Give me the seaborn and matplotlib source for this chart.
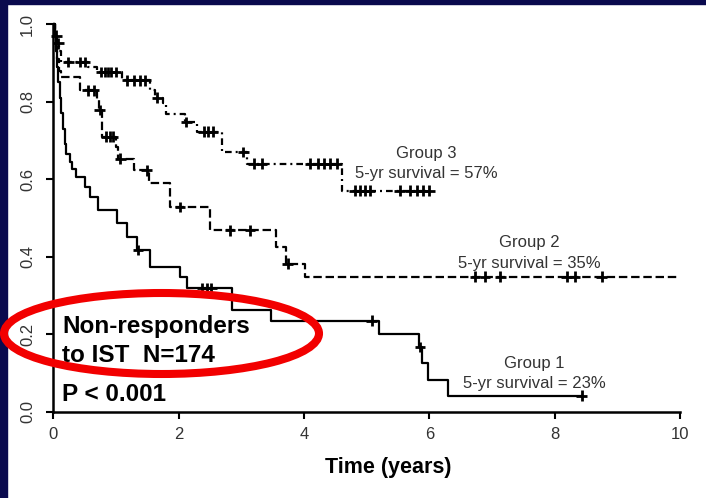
import numpy as np
import pandas as pd
import matplotlib
matplotlib.use("Agg")
import matplotlib.pyplot as plt
from matplotlib.patches import Ellipse, Rectangle
import seaborn as sns

# ---------------- data ----------------
g1_time = [0.0, 0.02, 0.04, 0.06, 0.08, 0.10, 0.12, 0.15, 0.18, 0.21, 0.26, 0.30, 0.37,
           0.51, 0.585, 0.72, 1.01, 1.17, 1.33, 1.54, 2.02, 2.13, 2.85, 3.48, 5.19,
           5.83, 5.88, 5.98, 6.30, 8.43]
g1_surv = [1.0, 0.97, 0.93, 0.89, 0.85, 0.81, 0.77, 0.73, 0.69, 0.665, 0.645, 0.625, 0.606,
           0.58, 0.554, 0.52, 0.486, 0.451, 0.417, 0.374, 0.348, 0.318, 0.262, 0.235, 0.20,
           0.167, 0.125, 0.082, 0.041, 0.041]
g1_cens = [1.35, 2.38, 2.45, 2.52, 5.08, 5.85, 8.43]

g2_time = [0.0, 0.02, 0.04, 0.06, 0.09, 0.12, 0.43, 0.69, 0.73, 0.78, 1.00, 1.04, 1.28,
           1.52, 1.86, 2.50, 3.56, 3.72, 4.02, 10.0]
g2_surv = [1.0, 0.97, 0.94, 0.91, 0.88, 0.864, 0.829, 0.803, 0.778, 0.709, 0.683, 0.653, 0.623,
           0.589, 0.528, 0.468, 0.425, 0.382, 0.348, 0.348]
g2_cens = [0.55, 0.65, 0.74, 0.84, 0.90, 0.95, 1.07, 1.49, 2.02, 2.82, 3.14, 3.74,
           6.73, 6.89, 7.13, 8.19, 8.32, 8.75]

g3_time = [0.0, 0.03, 0.06, 0.09, 0.13, 0.55, 0.70, 1.10, 1.54, 1.62, 1.75, 1.80, 2.10,
           2.30, 2.69, 3.09, 4.60, 6.00]
g3_surv = [1.0, 0.97, 0.95, 0.93, 0.902, 0.889, 0.876, 0.855, 0.83, 0.81, 0.795, 0.769, 0.747,
           0.722, 0.67, 0.64, 0.57, 0.57]
g3_cens = [0.05, 0.08, 0.24, 0.43, 0.50, 0.76, 0.82, 0.87, 0.92, 1.00, 1.18, 1.28, 1.38, 1.47, 1.66,
           2.12, 2.40, 2.47, 2.55, 3.03, 3.20, 3.33, 4.10, 4.22, 4.32, 4.42, 4.52,
           4.81, 4.90, 4.97, 5.05, 5.53, 5.69, 5.80, 5.90, 6.00]

groups = ["Group 1", "Group 2", "Group 3"]
survival_5yr = ["23%", "35%", "57%"]
x_ticks = [0, 2, 4, 6, 8, 10]
y_ticks = [0.0, 0.2, 0.4, 0.6, 0.8, 1.0]

# ---------------- tables ----------------
curves = pd.concat([
    pd.DataFrame({"time": g1_time, "surv": g1_surv, "group": groups[0]}),
    pd.DataFrame({"time": g2_time, "surv": g2_surv, "group": groups[1]}),
    pd.DataFrame({"time": g3_time, "surv": g3_surv, "group": groups[2]}),
], ignore_index=True)


def step_at(times, survs, pts):
    times = np.asarray(times)
    survs = np.asarray(survs)
    idx = np.searchsorted(times, pts, side="right") - 1
    return survs[np.clip(idx, 0, len(survs) - 1)]


cens = pd.concat([
    pd.DataFrame({"time": g1_cens, "surv": step_at(g1_time, g1_surv, g1_cens), "group": groups[0]}),
    pd.DataFrame({"time": g2_cens, "surv": step_at(g2_time, g2_surv, g2_cens), "group": groups[1]}),
    pd.DataFrame({"time": g3_cens, "surv": step_at(g3_time, g3_surv, g3_cens), "group": groups[2]}),
], ignore_index=True)

# ---------------- style ----------------
sns.set_theme(style="ticks")
plt.rcParams["font.family"] = ["Liberation Sans", "DejaVu Sans"]

W, H = 706, 498
fig = plt.figure(figsize=(W / 100, H / 100), dpi=100, facecolor="white")

# navy slide border
navy = "#0a0a4e"
fig.add_artist(Rectangle((0, 0), 7 / W, 1, transform=fig.transFigure, color=navy, zorder=0))
fig.add_artist(Rectangle((0, 1 - 4 / H), 1, 4 / H, transform=fig.transFigure, color=navy, zorder=0))

ax = fig.add_axes([53.3 / W, (H - 411.7) / H, (680 - 53.3) / W, (411.7 - 24) / H])
ax.set_facecolor("white")

palette = {g: "black" for g in groups}
dashes = {groups[0]: "", groups[1]: (3.8, 1.7), groups[2]: (3.0, 1.8, 0.9, 1.8)}
sns.lineplot(data=curves, x="time", y="surv", hue="group", style="group",
             palette=palette, dashes=dashes, drawstyle="steps-post",
             estimator=None, sort=False, legend=False, linewidth=1.6, ax=ax)
for ln in ax.lines:
    ln.set_clip_on(False)

sns.scatterplot(data=cens, x="time", y="surv", hue="group", palette=palette,
                marker="+", s=60, linewidth=2.0, legend=False, ax=ax, zorder=3)
for coll in ax.collections:
    coll.set_clip_on(False)

ax.set_xlim(0, 10)
ax.set_ylim(0, 1.0)
ax.set_xticks(x_ticks)
ax.set_xticklabels([str(v) for v in x_ticks])
ax.set_yticks(y_ticks)
ax.set_yticklabels([f"{v:.1f}" for v in y_ticks])
for s in ["top", "right"]:
    ax.spines[s].set_visible(False)
for s in ["left", "bottom"]:
    ax.spines[s].set_linewidth(1.8)
    ax.spines[s].set_color("black")
ax.tick_params(axis="both", direction="out", length=5, width=1.5, color="black",
               labelsize=12, labelcolor="#333333")
ax.tick_params(axis="x", pad=6)
ax.tick_params(axis="y", pad=8)
for lab in ax.get_yticklabels():
    lab.set_rotation(90)
    lab.set_va("center")

ax.set_ylabel("")
ax.set_xlabel("Time (years)", fontsize=15.5, fontweight="bold", color="black")
ax.xaxis.set_label_coords(0.534, -0.117)

# group annotations
txt_kw = dict(ha="center", va="baseline", fontsize=12, color="#333333")
ax.text(5.955, 0.654, groups[2], **txt_kw)
ax.text(5.955, 0.602, f"5-yr survival = {survival_5yr[2]}", **txt_kw)
ax.text(7.59, 0.425, groups[1], **txt_kw)
ax.text(7.59, 0.371, f"5-yr survival = {survival_5yr[1]}", **txt_kw)
ax.text(7.67, 0.112, groups[0], **txt_kw)
ax.text(7.67, 0.060, f"5-yr survival = {survival_5yr[0]}", **txt_kw)

# bold annotations
big_kw = dict(ha="left", va="baseline", fontsize=17.5, fontweight="bold", color="black")
ax.text(0.139, 0.203, "Non-responders", **big_kw)
ax.text(0.139, 0.129, "to IST  N=174", **big_kw)
ax.text(0.139, 0.0276, "P < 0.001", **big_kw)

# red highlight ellipse (figure inches)
ell = Ellipse((161.5 / 100, (H - 333.5) / 100), 3.15, 0.81, transform=fig.dpi_scale_trans,
              fill=False, edgecolor="#f20000", linewidth=5.8, zorder=10)
fig.add_artist(ell)

fig.savefig("out.png", dpi=100, facecolor=fig.get_facecolor())
